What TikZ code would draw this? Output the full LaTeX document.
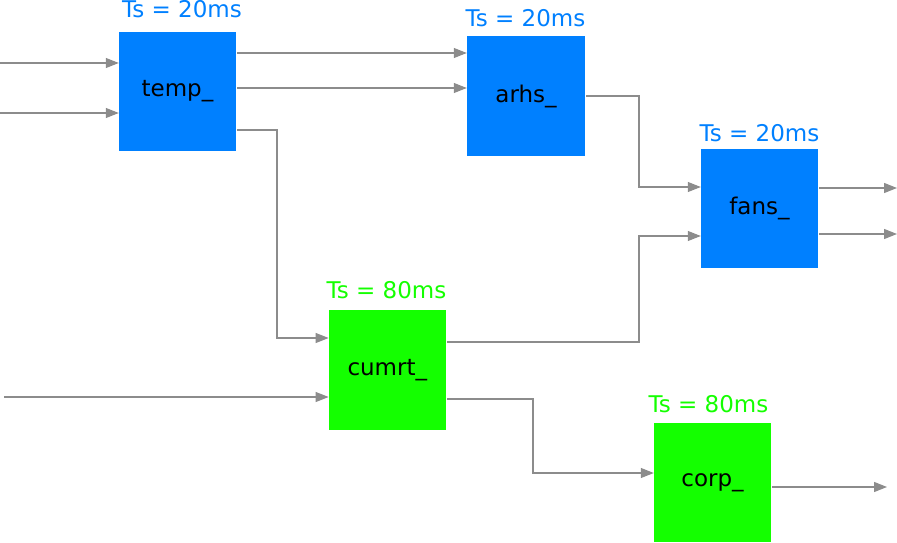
\documentclass[tikz,border=0pt]{standalone}
\usepackage{fontspec}
\setmainfont{DejaVu Sans}
\usetikzlibrary{arrows.meta}
\definecolor{blk}{RGB}{0,128,255}
\definecolor{grn}{RGB}{20,255,0}
\definecolor{wire}{RGB}{140,140,140}
\begin{document}
\begin{tikzpicture}[x=1pt,y=-1pt,
  blockb/.style={fill=blk,draw=none,inner sep=0pt,minimum width=117pt,minimum height=119pt,font=\fontsize{23}{27}\selectfont,text=black},
  blockg/.style={blockb,fill=grn},
  tslab/.style={anchor=base,inner sep=0pt,font=\fontsize{23}{27}\selectfont},
  wirestyle/.style={draw=wire,line width=1.1pt,-{Triangle[length=13pt,width=10pt]}}]
\useasboundingbox (0,0) rectangle (897,543);
\node[blockb] (temp) at (177.5,91.5) {temp\_};
\node[blockb,minimum width=118pt,minimum height=120pt] (arhs) at (526,96) {arhs\_};
\node[blockb] (fans) at (759.5,208.5) {fans\_};
\node[blockg,minimum height=120pt] (cumrt) at (387.3,370) {cumrt\_};
\node[blockg] (corp) at (712.5,482.5) {corp\_};
\node[tslab,text=blk] (ltemp) at (182,18) {Ts = 20ms};
\node[tslab,text=blk] (larhs) at (525.5,27) {Ts = 20ms};
\node[tslab,text=blk] (lfans) at (759.5,141) {Ts = 20ms};
\node[tslab,text=grn] (lcumrt) at (386.5,298) {Ts = 80ms};
\node[tslab,text=grn] (lcorp) at (708.5,412) {Ts = 80ms};
\coordinate (in1) at (0,63);
\coordinate (in2) at (0,113);
\coordinate (in3) at (4,397);
\coordinate (out1) at (897,188);
\coordinate (out2) at (897,234);
\coordinate (out3) at (887,487);
\draw[wirestyle] (in1) -- (temp.west |- in1);
\draw[wirestyle] (in2) -- (temp.west |- in2);
\draw[wirestyle] (in3) -- (cumrt.west |- in3);
\draw[wirestyle] ([xshift=1pt]temp.east |- 0,53) -- (arhs.west |- 0,53);
\draw[wirestyle] ([xshift=1pt]temp.east |- 0,88) -- (arhs.west |- 0,88);
\draw[wirestyle] ([xshift=1pt]temp.east |- 0,130) -| (277,338) -- (cumrt.west |- 0,338);
\draw[wirestyle] ([xshift=1pt]arhs.east |- 0,96) -| (639,187) -- (fans.west |- 0,187);
\draw[wirestyle] ([xshift=1pt]cumrt.east |- 0,342) -| (639,236) -- (fans.west |- 0,236);
\draw[wirestyle] ([xshift=1pt]cumrt.east |- 0,399) -| (533,473) -- (corp.west |- 0,473);
\draw[wirestyle] ([xshift=1pt]fans.east |- out1) -- (out1);
\draw[wirestyle] ([xshift=1pt]fans.east |- out2) -- (out2);
\draw[wirestyle] ([xshift=1pt]corp.east |- out3) -- (out3);
\end{tikzpicture}
\end{document}
